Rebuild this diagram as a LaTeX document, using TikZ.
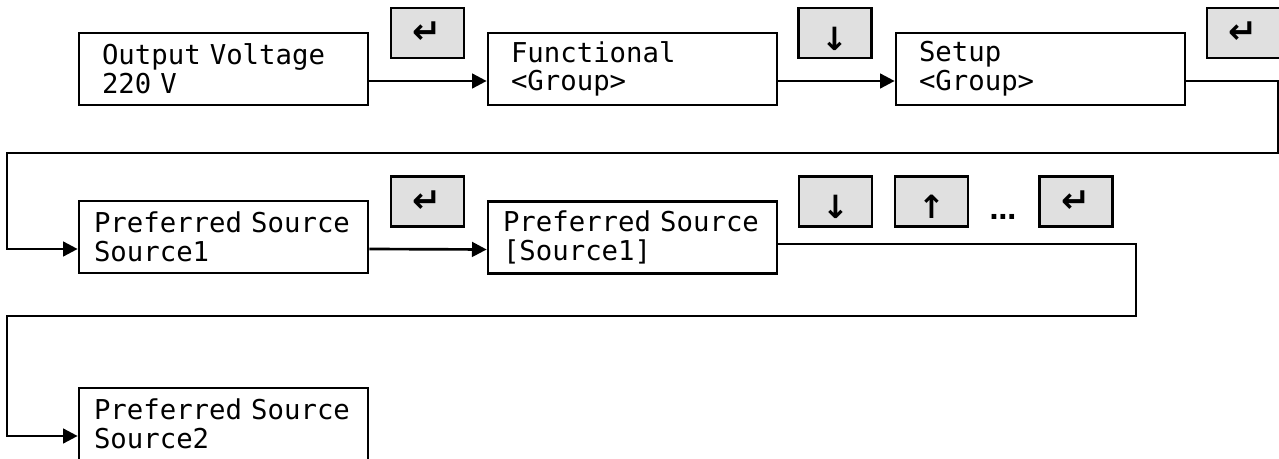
\documentclass[tikz,border=0pt]{standalone}
\usepackage{fontspec}
\newfontfamily\lcdfont{DejaVu Sans Mono}
\newfontfamily\keyfont{DejaVu Sans}
\usepackage{xcolor}
\definecolor{keygray}{RGB}{224,224,224}
\usetikzlibrary{arrows.meta}

\begin{document}
\begin{tikzpicture}[x=0.75pt, y=-0.75pt,
    display/.style={draw, line width=2pt, minimum width=216.75pt, minimum height=54pt,
      text width=182.25pt, inner xsep=17.25pt, inner ysep=0pt, align=left,
      font=\lcdfont\fontsize{20.5}{21.5}\selectfont},
    longdisplay/.style={display, text width=194.25pt, inner xsep=11.25pt},
    keybox/.style={draw, line width=2pt, fill=keygray, minimum width=54.75pt,
      minimum height=37.5pt, inner sep=0pt, font=\keyfont\bfseries\fontsize{20}{20}\selectfont},
    enterkey/.style={keybox, font=\keyfont\bfseries\fontsize{26}{26}\selectfont},
    arrowkey/.style={keybox, font=\keyfont\bfseries\fontsize{24}{24}\selectfont,
      text height=26pt, text depth=0pt},
    link/.style={line width=2pt, -{Triangle[length=11pt,width=11pt]}}]
        \useasboundingbox (0,0) rectangle (1279,459);

        \node[display] (volt) at (223.5,69) {Output Voltage\\220 V};
        \node[display] (func) at (632.5,69) {Functional\\<Group>};
        \node[display] (setup) at (1040.5,69) {Setup\\<Group>};
        \node[longdisplay] (srcA) at (223.5,237) {Preferred Source\\Source1};
        \node[longdisplay] (srcsel) at (632.5,237.5) {Preferred Source\\{[Source1]}};
        \node[longdisplay] (srcB) at (223.5,424) {Preferred Source\\Source2};

        \node[enterkey] (enterA) at (427.5,33) {↵};
        \node[arrowkey] (downA) at (835,33) {↓};
        \node[enterkey] (enterB) at (1243.5,33) {↵};
        \node[enterkey] (enterC) at (427.5,201.5) {↵};
        \node[arrowkey] (downB) at (835.5,201.5) {↓};
        \node[arrowkey] (upB) at (931.5,201.5) {↑};
        \node[anchor=base, inner sep=0pt, font=\keyfont\bfseries\fontsize{20}{20}\selectfont] (more) at (1003,220) {…};
        \node[enterkey] (enterD) at (1076,201.5) {↵};

        \coordinate (turnR1) at (1278,153);
        \coordinate (turnL1) at (7,153);
        \coordinate (turnR2) at (1136,316);
        \coordinate (turnL2) at (7,316);

        \draw[link] ([yshift=-9pt]volt.east) -- ([yshift=-9pt]func.west);
        \draw[link] ([yshift=-9pt]func.east) -- ([yshift=-9pt]setup.west);
        \draw[link] ([yshift=-9pt]setup.east) -| (turnR1) -- (turnL1) |- ([yshift=-9pt]srcA.west);
        \draw[link] ([yshift=-9pt]srcA.east) -- ([yshift=-9pt]srcsel.west);
        \draw[link] ([yshift=-5pt]srcsel.east) -| (turnR2) -- (turnL2) |- ([yshift=-9pt]srcB.west);
      \end{tikzpicture}
\end{document}
